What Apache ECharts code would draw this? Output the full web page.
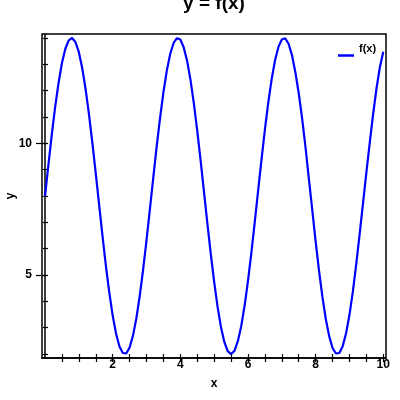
<!DOCTYPE html>
<html>
<head>
<meta charset="utf-8">
<script src="https://cdn.jsdelivr.net/npm/echarts@6/dist/echarts.min.js"></script>
<style>
html,body{margin:0;padding:0;background:#fff;}
#chart{width:400px;height:400px;}
</style>
</head>
<body>
<div id="chart"></div>
<script>
const titleText = 'y = f(x)';
const seriesName = 'f(x)';
const xName = 'x';
const yName = 'y';
const xValues = [0,0.1,0.2,0.3,0.4,0.5,0.6,0.7,0.8,0.9,1,1.1,1.2,1.3,1.4,1.5,1.6,1.7,1.8,1.9,2,2.1,2.2,2.3,2.4,2.5,2.6,2.7,2.8,2.9,3,3.1,3.2,3.3,3.4,3.5,3.6,3.7,3.8,3.9,4,4.1,4.2,4.3,4.4,4.5,4.6,4.7,4.8,4.9,5,5.1,5.2,5.3,5.4,5.5,5.6,5.7,5.8,5.9,6,6.1,6.2,6.3,6.4,6.5,6.6,6.7,6.8,6.9,7,7.1,7.2,7.3,7.4,7.5,7.6,7.7,7.8,7.9,8,8.1,8.2,8.3,8.4,8.5,8.6,8.7,8.8,8.9,9,9.1,9.2,9.3,9.4,9.5,9.6,9.7,9.8,9.9,10];
const yValues = [8.00,9.19,10.34,11.39,12.30,13.05,13.59,13.91,14.00,13.84,13.46,12.85,12.05,11.09,10.01,8.85,7.65,6.47,5.34,4.33,3.46,2.77,2.29,2.04,2.02,2.25,2.70,3.36,4.21,5.21,6.32,7.50,8.70,9.87,10.96,11.94,12.76,13.39,13.81,13.99,13.94,13.64,13.13,12.41,11.51,10.47,9.34,8.15,6.95,5.80,4.74,3.80,3.03,2.46,2.11,2.00,2.12,2.49,3.06,3.84,4.78,5.85,7.01,8.20,9.39,10.52,11.55,12.44,13.15,13.66,13.94,13.99,13.78,13.35,12.70,11.90,10.95,9.86,8.65,7.47,6.27,5.17,4.17,3.33,2.68,2.23,2.02,2.04,2.30,2.79,3.49,4.37,5.41,6.54,7.72,8.90,10.03,11.12,12.09,12.90,13.48];
const xTickValues = [0.5,1,1.5,2,2.5,3,3.5,4,4.5,5,5.5,6,6.5,7,7.5,8,8.5,9,9.5,10];
const xTickLabels = [2,4,6,8,10];
const yMinorTicks = [2,3,4,5,6,7,8,9,10,11,12,13,14];
const yTickLabels = [5,10];
const xRange = [-0.09, 10.08];
const yRange = [1.85, 14.15];

const FONT = '"Liberation Sans", Arial, sans-serif';
const pairs = xValues.map((x, i) => [x, yValues[i]]);
const black = '#000';

function xAx(extra) {
  return Object.assign({
    type: 'value', gridIndex: 0, min: xRange[0], max: xRange[1],
    splitLine: {show: false}, axisLabel: {show: false},
    axisLine: {show: false}
  }, extra);
}
function yAx(extra) {
  return Object.assign({
    type: 'value', gridIndex: 0, min: yRange[0], max: yRange[1], position: 'left',
    splitLine: {show: false}, axisLabel: {show: false},
    axisLine: {show: false, onZero: true}
  }, extra);
}

const chart = echarts.init(document.getElementById('chart'), null, {renderer: 'canvas'});
chart.setOption({
  animation: false,
  backgroundColor: '#fff',
  title: {
    text: titleText, left: 214, top: -6, padding: 0, textAlign: 'center',
    textStyle: {fontFamily: FONT, fontSize: 19, fontWeight: 'bold', color: black}
  },
  legend: {
    data: [seriesName], left: 338, top: 43, padding: 0,
    icon: 'rect', itemWidth: 16, itemHeight: 2.5,
    formatter: name => '{t|' + name + '}',
    textStyle: {
      fontFamily: FONT, fontSize: 11, fontWeight: 'bold', color: black,
      rich: {t: {fontFamily: FONT, fontSize: 11, fontWeight: 'bold', color: black, padding: [0, 0, 14, 0]}}
    }
  },
  grid: {
    left: 42, right: 14, top: 34, bottom: 42,
    outerBoundsMode: 'none', containLabel: false,
    show: true, borderColor: black, borderWidth: 1.5, backgroundColor: 'transparent'
  },
  xAxis: [
    xAx({
      position: 'bottom',
      axisLine: {show: true, lineStyle: {color: black, width: 1.5}},
      axisTick: {show: true, inside: true, length: 4, customValues: xTickValues, lineStyle: {color: black, width: 1.2}},
      axisLabel: {show: true, customValues: xTickLabels, margin: 1, fontFamily: FONT, fontSize: 12, fontWeight: 'bold', color: black},
      name: xName, nameLocation: 'middle', nameGap: 20, nameMoveOverlap: false,
      nameTextStyle: {fontFamily: FONT, fontSize: 12, fontWeight: 'bold', color: black}
    }),
    xAx({
      position: 'bottom',
      axisLine: {show: false, onZero: false},
      axisTick: {show: true, inside: false, length: 4, customValues: xTickValues, lineStyle: {color: black, width: 1.2}}
    })
  ],
  yAxis: [
    yAx({
      axisLine: {show: true, onZero: true, lineStyle: {color: black, width: 1.5}},
      axisTick: {show: true, inside: true, length: 3, customValues: yMinorTicks, lineStyle: {color: black, width: 1.2}},
      axisLabel: {show: true, customValues: yTickLabels, margin: 10, padding: [0, 0, 7, 0], fontFamily: FONT, fontSize: 12, fontWeight: 'bold', color: black},
      name: yName, nameLocation: 'middle', nameGap: 25, nameMoveOverlap: false,
      nameTextStyle: {fontFamily: FONT, fontSize: 12, fontWeight: 'bold', color: black}
    }),
    yAx({
      axisTick: {show: true, inside: false, length: 2, customValues: yMinorTicks, lineStyle: {color: black, width: 1.2}}
    }),
    yAx({
      axisTick: {show: true, inside: true, length: 5, customValues: yTickLabels, lineStyle: {color: black, width: 1.2}}
    }),
    yAx({
      axisTick: {show: true, inside: false, length: 6, customValues: yTickLabels, lineStyle: {color: black, width: 1.2}}
    })
  ],
  series: [{
    name: seriesName, type: 'line', xAxisIndex: 0, yAxisIndex: 0,
    data: pairs, showSymbol: false, symbol: 'none',
    color: '#0000ff',
    lineStyle: {color: '#0000ff', width: 2.2}
  }]
});
</script>
</body>
</html>
